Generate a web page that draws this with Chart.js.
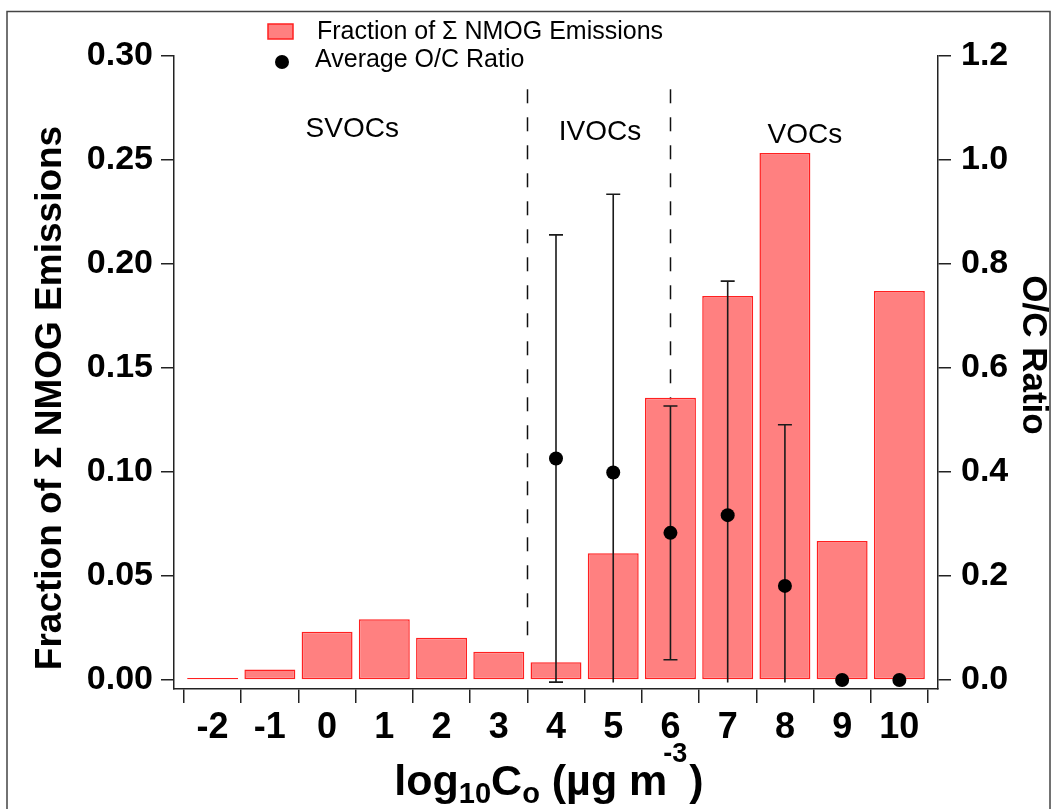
<!DOCTYPE html>
<html>
<head>
<meta charset="utf-8">
<script src="https://cdn.jsdelivr.net/npm/chart.js@4.4.1/dist/chart.umd.min.js"></script>
<style>
  html, body { margin: 0; padding: 0; background: #fff; }
  canvas { display: block; }
</style>
</head>
<body>
<canvas id="c" width="1054" height="809"></canvas>
<script>
// ---- data ----
const categories = [-2, -1, 0, 1, 2, 3, 4, 5, 6, 7, 8, 9, 10];
const tickLabels = ['-2', '-1', '0', '1', '2', '3', '4', '5', '6', '7', '8', '9', '10'];
const nmogFraction = [0.001, 0.0051, 0.0232, 0.0292, 0.0203, 0.0136, 0.0085, 0.0609, 0.1357, 0.1846, 0.2534, 0.0668, 0.1870];
const ocRatio = [null, null, null, null, null, null, 0.426, 0.399, 0.283, 0.317, 0.181, 0.0, 0.0];
const ocError = [null, null, null, null, null, null, 0.430, 0.535, 0.244, 0.450, 0.310, null, null];
const leftTicks = [0, 0.05, 0.10, 0.15, 0.20, 0.25, 0.30];
const rightTicks = [0, 0.2, 0.4, 0.6, 0.8, 1.0, 1.2];
const binEdges = [-2.5, -1.5, -0.5, 0.5, 1.5, 2.5, 3.5, 4.5, 5.5, 6.5, 7.5, 8.5, 9.5, 10.5];
const classNames = ['SVOCs', 'IVOCs', 'VOCs'];
const classLabelX = [0.44, 4.77, 8.35];
const classLabelY = [0.261, 0.2596, 0.258];
const classDividers = [3.5, 6];
const dividerSpan = [0.02, 0.284];
const legendLabels = ['Fraction of \u03A3 NMOG Emissions', 'Average O/C Ratio'];

// ---- styling ----
const FONT = "'Liberation Sans', Arial, Helvetica, sans-serif";
const INK = '#222';
const BAR_FILL = '#FF8080';
const BAR_EDGE = '#FF2020';
const X_MIN = -2.675, X_MAX = 10.675;
const ERR_FLOOR = -0.005;

const decor = {
  id: 'decor',
  beforeDatasetsDraw(chart) {
    const { ctx } = chart;
    const xs = chart.scales.x, ys = chart.scales.y;
    ctx.save();
    ctx.strokeStyle = '#111';
    ctx.lineWidth = 1.5;
    ctx.setLineDash([14, 14]);
    classDividers.forEach(v => {
      const px = Math.round(xs.getPixelForValue(v)) + 0.5;
      ctx.beginPath();
      ctx.moveTo(px, ys.getPixelForValue(dividerSpan[1]));
      ctx.lineTo(px, ys.getPixelForValue(dividerSpan[0]));
      ctx.stroke();
    });
    ctx.restore();
  },
  afterDatasetDraw(chart, args) {
    if (args.index !== 0) return;
    const { ctx } = chart;
    const xs = chart.scales.x, ys = chart.scales.y2;
    ctx.save();
    ctx.strokeStyle = '#1a1a1a';
    ctx.lineWidth = 1.6;
    categories.forEach((c, i) => {
      if (ocRatio[i] == null || ocError[i] == null) return;
      const px = xs.getPixelForValue(c);
      const hi = ocRatio[i] + ocError[i];
      let lo = ocRatio[i] - ocError[i];
      const clipped = lo < ERR_FLOOR;
      if (clipped) lo = ERR_FLOOR;
      const yHi = ys.getPixelForValue(hi), yLo = ys.getPixelForValue(lo);
      ctx.beginPath();
      ctx.moveTo(px, yHi); ctx.lineTo(px, yLo);
      ctx.moveTo(px - 7, yHi); ctx.lineTo(px + 7, yHi);
      if (!clipped) { ctx.moveTo(px - 7, yLo); ctx.lineTo(px + 7, yLo); }
      ctx.stroke();
    });
    ctx.restore();
  },
  afterDraw(chart) {
    const { ctx } = chart;
    const xs = chart.scales.x, ys = chart.scales.y;
    ctx.save();
    ctx.fillStyle = '#000';
    // class annotations
    ctx.font = '28px ' + FONT;
    ctx.textAlign = 'center';
    ctx.textBaseline = 'alphabetic';
    classNames.forEach((t, i) => {
      ctx.fillText(t, xs.getPixelForValue(classLabelX[i]), ys.getPixelForValue(classLabelY[i]));
    });

    // legend
    ctx.textAlign = 'left';
    ctx.font = '25px ' + FONT;
    ctx.fillStyle = BAR_FILL;
    ctx.fillRect(268, 24, 25, 15);
    ctx.strokeStyle = BAR_EDGE;
    ctx.lineWidth = 1.5;
    ctx.strokeRect(268, 24, 25, 15);
    ctx.fillStyle = '#000';
    ctx.fillText(legendLabels[0], 317, 39);
    ctx.beginPath();
    ctx.arc(282, 62, 7, 0, Math.PI * 2);
    ctx.fill();
    ctx.fillText(legendLabels[1], 315, 67);

    // left axis title
    ctx.save();
    ctx.font = 'bold 37px ' + FONT;
    ctx.textAlign = 'center';
    ctx.translate(61, 398);
    ctx.rotate(-Math.PI / 2);
    ctx.fillText('Fraction of \u03A3 NMOG Emissions', 0, 0);
    ctx.restore();

    // right axis title
    ctx.save();
    ctx.font = 'bold 35px ' + FONT;
    ctx.textAlign = 'center';
    ctx.translate(1023, 355);
    ctx.rotate(Math.PI / 2);
    ctx.fillText('O/C Ratio', 0, 0);
    ctx.restore();

    // x axis title with sub/superscripts
    const big = 'bold 43px ' + FONT, sub = 'bold 29px ' + FONT, sup = 'bold 27px ' + FONT;
    const parts = [
      { t: 'log', f: big, dy: 0, dx: 0 },
      { t: '10', f: sub, dy: 8, dx: 0 },
      { t: 'C', f: big, dy: 0, dx: 0 },
      { t: 'o', f: sub, dy: 8, dx: 0 },
      { t: ' (\u00B5g m', f: big, dy: 0, dx: 0 },
      { t: '-3', f: sup, dy: -33, dx: -4 },
      { t: ')', f: big, dy: 0, dx: 2 }
    ];
    let total = 0;
    parts.forEach(p => { ctx.font = p.f; p.w = ctx.measureText(p.t).width; total += p.w + p.dx; });
    let cx = 549 - total / 2;
    const base = 795;
    ctx.textAlign = 'left';
    parts.forEach(p => {
      ctx.font = p.f;
      cx += p.dx;
      ctx.fillText(p.t, cx, base + p.dy);
      cx += p.w;
    });

    // outer frame
    ctx.strokeStyle = '#444';
    ctx.lineWidth = 1.5;
    ctx.strokeRect(7, 11.5, 1043, 820);
    ctx.restore();
  }
};

const yTickFont = { family: FONT, size: 34, weight: 'bold' };
const xTickFont = { family: FONT, size: 36, weight: 'bold' };

new Chart(document.getElementById('c'), {
  type: 'bar',
  data: {
    datasets: [
      {
        type: 'bar',
        label: legendLabels[0],
        data: categories.map((c, i) => ({ x: c, y: nmogFraction[i] })),
        backgroundColor: BAR_FILL,
        borderColor: BAR_EDGE,
        borderWidth: 1.5,
        borderSkipped: false,
        barPercentage: 0.89,
        categoryPercentage: 1.0,
        xAxisID: 'x',
        yAxisID: 'y',
        order: 2
      },
      {
        type: 'line',
        label: legendLabels[1],
        data: categories.map((c, i) => ({ x: c, y: ocRatio[i] })).filter(p => p.y !== null),
        showLine: false,
        pointRadius: 7,
        pointBackgroundColor: '#000',
        pointBorderWidth: 0,
        xAxisID: 'x',
        yAxisID: 'y2',
        clip: false,
        order: 1
      }
    ]
  },
  options: {
    responsive: false,
    animation: false,
    events: [],
    layout: { padding: { top: 56, left: 0, right: 0, bottom: 0 } },
    plugins: { legend: { display: false }, tooltip: { enabled: false }, title: { display: false } },
    scales: {
      x: {
        type: 'linear', position: 'bottom', weight: 1, min: X_MIN, max: X_MAX, offset: false,
        grid: { display: false, offset: false },
        border: { display: false },
        afterBuildTicks: s => { s.ticks = categories.map(v => ({ value: v })); },
        ticks: {
          autoSkip: false, maxRotation: 0, minRotation: 0, padding: -5, color: '#000', font: xTickFont,
          callback: (v, i) => tickLabels[i]
        },
        afterFit: s => { s.height = 106; }
      },
      xt: {
        type: 'linear', position: 'bottom', weight: 0, min: X_MIN, max: X_MAX, offset: false,
        grid: { display: true, offset: false, drawOnChartArea: false, drawTicks: true, tickLength: 14, color: INK, lineWidth: 1.5 },
        border: { display: true, color: INK, width: 1.5 },
        ticks: { display: false },
        afterBuildTicks: s => { s.ticks = binEdges.map(v => ({ value: v })); },
        afterFit: s => { s.height = 14; }
      },
      y: {
        type: 'linear', position: 'left', min: -0.00433, max: 0.30,
        afterBuildTicks: s => { s.ticks = leftTicks.map(v => ({ value: v })); },
        grid: { display: true, drawOnChartArea: false, drawTicks: true, tickLength: 13, color: INK, lineWidth: 1.5 },
        border: { display: true, color: INK, width: 1.5 },
        ticks: { padding: 8, color: '#000', font: yTickFont, callback: v => Number(v).toFixed(2) },
        afterFit: s => { s.width = 174; }
      },
      y2: {
        type: 'linear', position: 'right', min: -0.0173, max: 1.2,
        afterBuildTicks: s => { s.ticks = rightTicks.map(v => ({ value: v })); },
        grid: { display: true, drawOnChartArea: false, drawTicks: true, tickLength: 13, color: INK, lineWidth: 1.5 },
        border: { display: true, color: INK, width: 1.5 },
        ticks: { padding: 10, color: '#000', font: yTickFont, callback: v => Number(v).toFixed(1) },
        afterFit: s => { s.width = 116; }
      }
    }
  },
  plugins: [decor]
});
</script>
</body>
</html>
